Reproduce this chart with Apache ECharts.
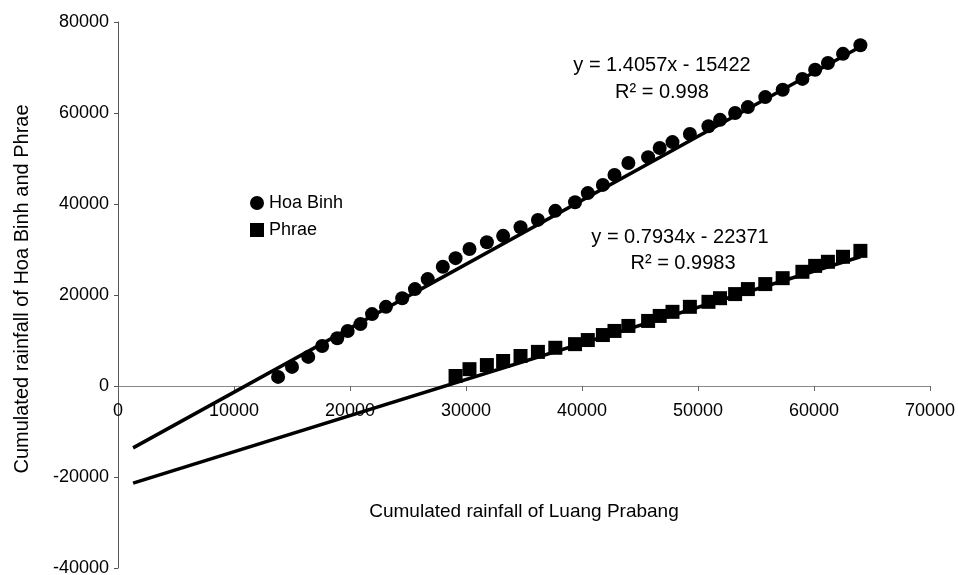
<!DOCTYPE html>
<html>
<head>
<meta charset="utf-8">
<title>Cumulated rainfall</title>
<script src="https://cdn.jsdelivr.net/npm/echarts@6/dist/echarts.min.js"></script>
<style>
  html, body { margin: 0; padding: 0; background: #fff; }
  #chart { width: 958px; height: 575px; }
</style>
</head>
<body>
<div id="chart"></div>
<script>
// cumulated rainfall of Luang Prabang (x), one value per year
const luangPrabang = [
  13800, 15000, 16400, 17600, 18900, 19800, 20900, 21900, 23100, 24500,
  25600, 26700, 28000, 29100, 30300, 31800, 33200, 34700, 36200, 37700,
  39400, 40500, 41800, 42800, 44000, 45700, 46700, 47800, 49300, 50900,
  51900, 53200, 54300, 55800, 57300, 59000, 60100, 61200, 62500, 64000
];
const hoaBinh = [
  2000, 4200, 6400, 8800, 10500, 12100, 13600, 15800, 17400, 19300,
  21300, 23500, 26200, 28100, 30100, 31600, 33000, 34900, 36500, 38500,
  40400, 42400, 44200, 46400, 49000, 50300, 52300, 53600, 55400, 57100,
  58500, 60000, 61300, 63500, 65100, 67500, 69500, 71000, 73000, 74900
];
// Phrae record starts at the 14th year of the Luang Prabang series
const phraeStart = 13;
const phrae = [
  2200, 3700, 4600, 5500, 6600, 7500, 8400, 9200, 10100, 11200,
  12100, 13200, 14300, 15400, 16300, 17400, 18500, 19300, 20200, 21300,
  22400, 23700, 25100, 26400, 27300, 28400, 29700
];

// linear trendlines as printed on the chart
const hoaBinhFit = { slope: 1.4057, intercept: -15422, r2: '0.998' };
const phraeFit = { slope: 0.7934, intercept: -22371, r2: '0.9983' };
const trendFrom = 1300;

const xTicks = { min: 0, max: 70000, interval: 10000 };
const yTicks = { min: -40000, max: 80000, interval: 20000 };

const FONT = "'Liberation Sans', Arial, sans-serif";

const GRID = { left: 118, right: 28, top: 22, bottom: 7 };
const PLOT_H = 575 - GRID.top - GRID.bottom;
// x axis is drawn where y = 0
const zeroOffset = -PLOT_H * (0 - yTicks.min) / (yTicks.max - yTicks.min);

function trendPoints(fit, x0, x1) {
  return [
    [x0, fit.slope * x0 + fit.intercept],
    [x1, fit.slope * x1 + fit.intercept],
  ];
}

function eqText(fit) {
  const sign = fit.intercept < 0 ? '-' : '+';
  return 'y = ' + fit.slope.toFixed(4) + 'x ' + sign + ' ' + Math.abs(fit.intercept);
}

const hoaBinhData = hoaBinh.map((v, i) => [luangPrabang[i], v]);
const phraeData = phrae.map((v, i) => [luangPrabang[phraeStart + i], v]);
const lastX = luangPrabang[luangPrabang.length - 1];

const chart = echarts.init(document.getElementById('chart'), null, { renderer: 'canvas' });

const tickStyle = { color: '#000', fontFamily: FONT, fontSize: 18 };

function textEl(x, y, text) {
  return {
    type: 'text', x: x, y: y, z: 10,
    style: { text: text, textAlign: 'center', textVerticalAlign: 'middle', font: '20px ' + FONT, fill: '#000' },
  };
}

chart.setOption({
  backgroundColor: '#fff',
  animation: false,
  grid: Object.assign({ containLabel: false, outerBoundsMode: 'none' }, GRID),
  legend: {
    orient: 'vertical',
    left: 245,
    top: 189,
    itemWidth: 14,
    itemHeight: 14,
    itemGap: 9,
    data: ['Hoa Binh', 'Phrae'],
    textStyle: { color: '#000', fontFamily: FONT, fontSize: 18 },
  },
  xAxis: {
    type: 'value',
    min: xTicks.min,
    max: xTicks.max,
    interval: xTicks.interval,
    position: 'bottom',
    offset: zeroOffset,
    name: 'Cumulated rainfall of Luang Prabang',
    nameLocation: 'middle',
    nameGap: 116,
    nameTextStyle: { color: '#000', fontFamily: FONT, fontSize: 19 },
    axisLine: { onZero: false, lineStyle: { color: '#888', width: 1 } },
    axisTick: { show: true, length: 5, lineStyle: { color: '#666' } },
    axisLabel: Object.assign({ margin: 16, formatter: (v) => String(v) }, tickStyle),
    splitLine: { show: false },
  },
  yAxis: {
    type: 'value',
    min: yTicks.min,
    max: yTicks.max,
    interval: yTicks.interval,
    name: 'Cumulated rainfall of Hoa Binh and Phrae',
    nameLocation: 'middle',
    nameGap: 86,
    nameTextStyle: { color: '#000', fontFamily: FONT, fontSize: 20, padding: [0, 0, 0, 12] },
    axisLine: { show: true, lineStyle: { color: '#555', width: 1 } },
    axisTick: { show: true, length: 4, lineStyle: { color: '#555' } },
    axisLabel: Object.assign({ margin: 9, formatter: (v) => String(v) }, tickStyle),
    splitLine: { show: false },
  },
  graphic: [
    textEl(662, 65, eqText(hoaBinhFit)),
    textEl(662, 92, 'R\u00b2 = ' + hoaBinhFit.r2),
    textEl(680, 237, eqText(phraeFit)),
    textEl(683, 263, 'R\u00b2 = ' + phraeFit.r2),
  ],
  series: [
    {
      name: 'Hoa Binh trend',
      type: 'line',
      data: trendPoints(hoaBinhFit, trendFrom, lastX),
      showSymbol: false,
      silent: true,
      z: 1,
      lineStyle: { color: '#000', width: 3.5 },
    },
    {
      name: 'Phrae trend',
      type: 'line',
      data: trendPoints(phraeFit, trendFrom, lastX),
      showSymbol: false,
      silent: true,
      z: 1,
      lineStyle: { color: '#000', width: 3.5 },
    },
    {
      name: 'Hoa Binh',
      type: 'scatter',
      symbol: 'circle',
      symbolSize: 14,
      data: hoaBinhData,
      z: 3,
      itemStyle: { color: '#000', opacity: 1 },
    },
    {
      name: 'Phrae',
      type: 'scatter',
      symbol: 'rect',
      symbolSize: 14,
      data: phraeData,
      z: 3,
      itemStyle: { color: '#000', opacity: 1 },
    },
  ],
});
</script>
</body>
</html>
